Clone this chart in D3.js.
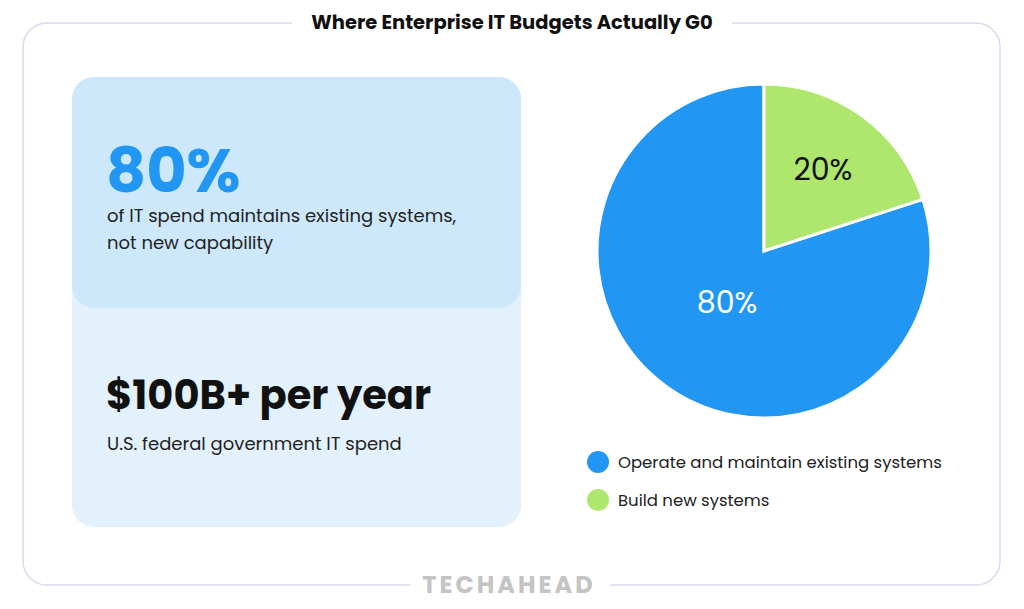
<!DOCTYPE html>
<html><head><meta charset="utf-8">
<script src="https://cdn.jsdelivr.net/npm/d3@7"></script>
<style>body{margin:0;background:#fff}svg{display:block;font-family:Poppins,"Noto Sans",sans-serif}</style>
</head><body><svg width="1024" height="609"></svg>
<script>
const categories = ['Operate and maintain existing systems', 'Build new systems'];
const shares = [80, 20];
const colors = ['#2196f3', '#aee66e'];
const labelColors = ['#ffffff', '#111111'];

const svg = d3.select('svg');

// frame with title and logo gaps
svg.append('rect').attr('x', 23).attr('y', 23).attr('width', 977).attr('height', 562).attr('rx', 24)
    .attr('fill', 'none').attr('stroke', '#dcd9ee').attr('stroke-width', 1.5);
svg.append('rect').attr('x', 292).attr('y', 15).attr('width', 440).attr('height', 16).attr('fill', '#fff');
svg.append('rect').attr('x', 410).attr('y', 577).attr('width', 200).attr('height', 16).attr('fill', '#fff');
svg.append('text').attr('x', 512).attr('y', 29).attr('text-anchor', 'middle')
    .attr('font-size', 19.5).attr('font-weight', 700).attr('fill', '#111').text('Where Enterprise IT Budgets Actually G0');
svg.append('text').attr('x', 509).attr('y', 593).attr('text-anchor', 'middle')
    .attr('font-size', 24).attr('font-weight', 700).attr('fill', '#c4c4c4').attr('letter-spacing', 3).text('TECHAHEAD');

// left card
svg.append('rect').attr('x', 72).attr('y', 77).attr('width', 449).attr('height', 450).attr('rx', 22).attr('fill', '#e3f1fc');
svg.append('rect').attr('x', 72).attr('y', 77).attr('width', 449).attr('height', 231).attr('rx', 22).attr('fill', '#cde8fa');
svg.append('text').attr('x', 106).attr('y', 192).attr('font-size', 62).attr('font-weight', 700).attr('fill', '#2196f3').text('80%');
svg.append('text').attr('x', 107).attr('y', 222).attr('font-size', 18).attr('fill', '#222').text('of IT spend maintains existing systems,');
svg.append('text').attr('x', 107).attr('y', 249).attr('font-size', 18).attr('fill', '#222').text('not new capability');
svg.append('text').attr('x', 106).attr('y', 409).attr('font-size', 40).attr('font-weight', 700).attr('fill', '#111').text('$100B+ per year');
svg.append('text').attr('x', 107).attr('y', 450).attr('font-size', 18).attr('fill', '#222').text('U.S. federal government IT spend');

// pie
const cx = 764, cy = 251, r = 167;
const pie = d3.pie().sort(null).startAngle(2 * Math.PI * 0.2).endAngle(2 * Math.PI * 1.2);
const arcs = pie(shares);
const arc = d3.arc().innerRadius(0).outerRadius(r);
const g = svg.append('g').attr('transform', `translate(${cx},${cy})`);
g.selectAll('path').data(arcs).join('path').attr('d', arc)
    .attr('fill', (d, i) => colors[i]).attr('stroke', '#fff').attr('stroke-width', 3);
const labelArc = d3.arc().innerRadius(r * 0.6).outerRadius(r * 0.6);
g.selectAll('text').data(arcs).join('text')
    .attr('transform', (d, i) => {
        const [x, y] = i === 0 ? [-37, 51] : labelArc.centroid(d);
        return `translate(${x},${y})`;
    })
    .attr('text-anchor', 'middle').attr('dy', '0.35em').attr('font-size', 30)
    .attr('fill', (d, i) => labelColors[i]).text((d, i) => shares[i] + '%');

// legend
const lg = svg.append('g').selectAll('g').data(categories).join('g')
    .attr('transform', (d, i) => `translate(598,${462 + i * 38})`);
lg.append('circle').attr('r', 11).attr('fill', (d, i) => colors[i]);
lg.append('text').attr('x', 20).attr('dy', '0.35em').attr('font-size', 16.5).attr('fill', '#222').text(d => d);
</script></body></html>
